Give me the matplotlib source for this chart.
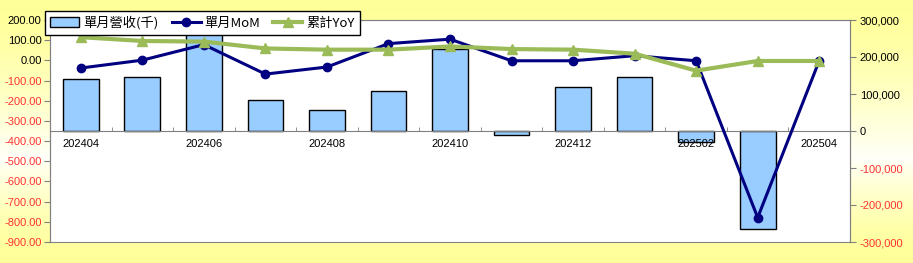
import matplotlib
matplotlib.use("Agg")
import matplotlib.pyplot as plt
from matplotlib.ticker import FixedLocator, FuncFormatter
import numpy as np

plt.rcParams['font.family'] = ['Liberation Sans', 'Noto Sans CJK TC', 'DejaVu Sans']

months = ['202404', '202405', '202406', '202407', '202408', '202409', '202410',
          '202411', '202412', '202501', '202502', '202503', '202504']
# last month has no bar in the chart
revenue = [140000, 145000, 320000, 85000, 58000, 108000, 222000,
           -11000, 119000, 146000, -30000, -266000, np.nan]
mom = [-38, 1, 78, -68, -33, 83, 105, -2, -2, 23, -2, -779, -2]
yoy = [115, 96, 93, 59, 53, 53, 69, 56, 53, 33, -51, -3, -3]

left_ticks = np.arange(-900, 201, 100)
right_ticks = np.arange(-300000, 300001, 100000)

fig = plt.figure(figsize=(9.13, 2.63), dpi=100)

# yellow background with a lighter band through the middle
bg = fig.add_axes([0, 0, 1, 1], zorder=-10)
grad = np.concatenate([np.linspace(0, 1, 60), np.linspace(1, 0, 40)])
yellow = np.array([1.0, 1.0, 0.6])
white = np.array([1.0, 1.0, 0.97])
img = yellow + (white - yellow) * grad[:, None] ** 1.5
bg.imshow(img[:, None, :], aspect='auto', extent=[0, 1, 0, 1], origin='upper')
bg.axis('off')

ax = fig.add_axes([50 / 913, 1 - 242 / 263, 800 / 913, 222 / 263])
ax2 = ax.twinx()
ax.set_zorder(2)
ax.patch.set_visible(False)
ax2.set_zorder(1)
ax2.patch.set_visible(True)
ax2.patch.set_facecolor('white')

x = np.arange(len(months))

# bars on the right axis
bars = ax2.bar(x, revenue, width=0.58, color='#99CCFF', edgecolor='black',
               linewidth=1, label='單月營收(千)')
ax2.set_ylim(-300000, 300000)
ax2.set_yticks(right_ticks)
ax2.yaxis.set_major_formatter(FuncFormatter(lambda v, p: f'{int(v):,}'))
for lab, v in zip(ax2.get_yticklabels(), right_ticks):
    lab.set_color('#FF3333' if v < 0 else 'black')

# lines on the left axis
l1, = ax.plot(x, mom, color='#000080', lw=2.2, marker='o', ms=6, label='單月MoM')
l2, = ax.plot(x, yoy, color='#9BBB59', lw=3, marker='^', ms=7.5, label='累計YoY')
ax.set_ylim(-900, 200)
ax.set_yticks(left_ticks)
ax.yaxis.set_major_formatter(FuncFormatter(lambda v, p: f'{v:.2f}'))
for lab, v in zip(ax.get_yticklabels(), left_ticks):
    lab.set_color('#FF3333' if v < 0 else 'black')

ax.set_xlim(-0.5, len(months) - 0.5)

# category axis crosses the right axis at zero
ax2.xaxis.set_visible(True)
ax2.spines['bottom'].set_position(('data', 0))
ax2.spines['bottom'].set_color('#808080')
ax2.xaxis.set_major_locator(FixedLocator(x[::2]))
ax2.xaxis.set_major_formatter(FuncFormatter(lambda v, p: months[int(round(v))]))
ax2.xaxis.set_minor_locator(FixedLocator(x[:-1] + 0.5))
ax2.tick_params(axis='x', which='major', bottom=True, top=False, length=0,
                labelbottom=True, labelsize=8, pad=6)
ax2.tick_params(axis='x', which='minor', bottom=True, top=False, direction='in',
                length=3, color='#808080')
ax.tick_params(axis='x', which='both', bottom=False, top=False,
               labelbottom=False, labeltop=False)

for a in (ax, ax2):
    for s in ('left', 'right', 'top'):
        a.spines[s].set_color('#808080')
ax.spines['bottom'].set_color('#808080')
ax.tick_params(axis='y', labelsize=8, length=4, color='#808080', pad=2)
ax2.tick_params(axis='y', labelsize=8, length=4, color='#808080', pad=3)

leg = fig.legend(handles=[bars, l1, l2], loc='lower left', ncol=3,
                 bbox_to_anchor=(45 / 913, 1 - 35 / 263, 315 / 913, 28 / 263),
                 mode='expand', frameon=True, fancybox=False, framealpha=1,
                 edgecolor='black', fontsize=9.5, handlelength=2.2,
                 handletextpad=0.3, columnspacing=0.8, borderaxespad=0)
leg.get_frame().set_linewidth(1)
leg.set_zorder(5)
for t in leg.get_texts():
    t.set_family(['Noto Sans CJK TC', 'DejaVu Sans'])

fig.savefig('out.png', dpi=100)
